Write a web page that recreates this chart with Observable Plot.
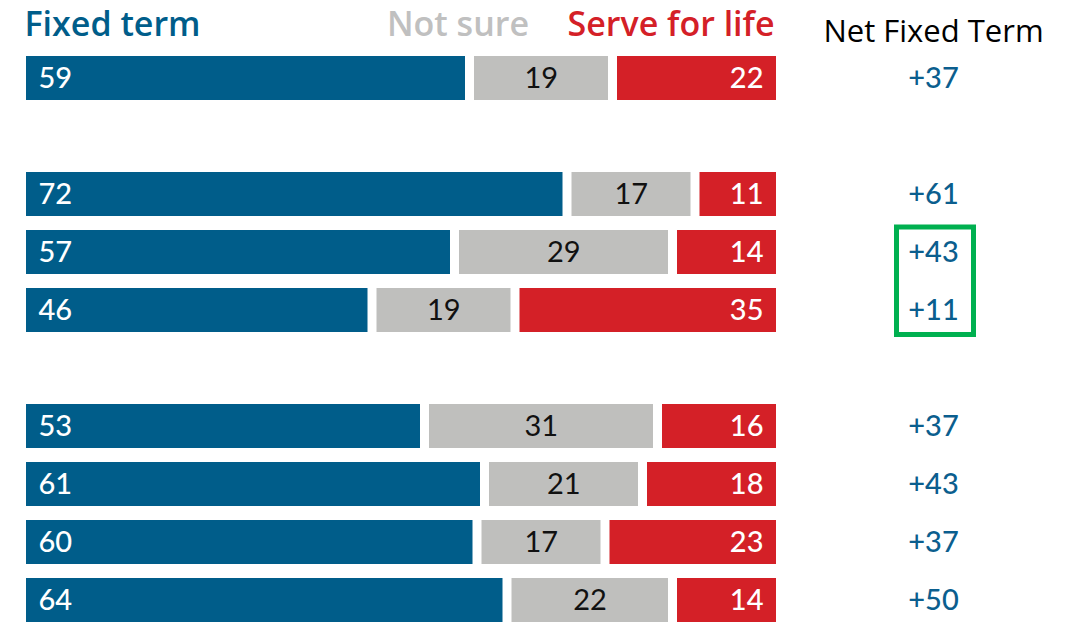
<!DOCTYPE html>
<html>
<head>
<meta charset="utf-8">
<script src="https://cdn.jsdelivr.net/npm/d3@7"></script>
<script src="https://cdn.jsdelivr.net/npm/@observablehq/plot@0.6"></script>
<style>
  html, body { margin: 0; padding: 0; background: #fff; }
  #chart svg { display: block; font-family: Lato, "Open Sans", sans-serif; }
</style>
</head>
<body>
<div id="chart"></div>
<script>
// ---- data ----
const rowKeys = ["r1", "r2", "r3", "r4", "r5", "r6", "r7", "r8"];
const slotOrder = ["r1", "gapA", "r2", "r3", "r4", "gapB", "r5", "r6", "r7", "r8"];
const fixedTerm = [59, 72, 57, 46, 53, 61, 60, 64];
const notSure = [19, 17, 29, 19, 31, 21, 17, 22];
const serveForLife = [22, 11, 14, 35, 16, 18, 23, 14];
const netFixed = ["+37", "+61", "+43", "+11", "+37", "+43", "+37", "+50"];
const highlighted = ["r3", "r4"];
const headerLabels = ["Fixed term", "Not sure", "Serve for life"];
const netHeader = "Net Fixed Term";

const BLUE = "#005d8a", GREY = "#bfbfbd", RED = "#d42027", GREEN = "#00b050", NETBLUE = "#0b5e8e";

const rows = rowKeys.map((k, i) => ({
  key: k,
  fixed: fixedTerm[i],
  unsure: notSure[i],
  life: serveForLife[i],
  net: netFixed[i]
}));

const font = "Lato, 'Open Sans', sans-serif";
const headFont = "'Open Sans', Lato, sans-serif";

const chart = Plot.plot({
  width: 1071,
  height: 623,
  marginTop: 0, marginBottom: 0, marginLeft: 0, marginRight: 0,
  style: { fontFamily: font, background: "#fff" },
  x: { domain: [0, 100], range: [26, 776], axis: null },
  y: { domain: slotOrder, range: [47.5, 630.8], paddingInner: 0.24, paddingOuter: 0.12, axis: null },
  marks: [
    // bars
    Plot.barX(rows, { y: "key", x1: () => 0, x2: d => d.fixed, fill: BLUE, insetRight: 3.5 }),
    Plot.barX(rows, { y: "key", x1: d => d.fixed, x2: d => d.fixed + d.unsure, fill: GREY, insetLeft: 5.5, insetRight: 3 }),
    Plot.barX(rows, { y: "key", x1: d => d.fixed + d.unsure, x2: () => 100, fill: RED, insetLeft: 6 }),
    // bar labels
    Plot.text(rows, { y: "key", x: () => 0, text: d => String(d.fixed), textAnchor: "start", dx: 12, fill: "#fff", fontSize: 29, fontWeight: 500 }),
    Plot.text(rows, { y: "key", x: d => d.fixed + d.unsure / 2, text: d => String(d.unsure), dx: 1, fill: "#111", fontSize: 29, fontWeight: 400 }),
    Plot.text(rows, { y: "key", x: () => 100, text: d => String(d.life), textAnchor: "end", dx: -13, fill: "#fff", fontSize: 29, fontWeight: 500 }),
    // net column
    Plot.text(rows, { y: "key", x: () => 100, text: "net", dx: 157, fill: NETBLUE, fontSize: 29, fontWeight: 500 }),
    // headers
    Plot.text([headerLabels[0]], { x: () => 0, frameAnchor: "top", lineAnchor: "middle", textAnchor: "start", dx: -2, dy: 25, text: d => d, fill: BLUE, fontSize: 34, fontWeight: 600, fontFamily: headFont, letterSpacing: "1px" }),
    Plot.text([headerLabels[1]], { x: () => 67, frameAnchor: "top", lineAnchor: "middle", textAnchor: "end", dy: 25, text: d => d, fill: "#c0c0c0", fontSize: 34, fontWeight: 600, fontFamily: headFont, letterSpacing: "0.8px" }),
    Plot.text([headerLabels[2]], { x: () => 100, frameAnchor: "top", lineAnchor: "middle", textAnchor: "end", dx: -2, dy: 25, text: d => d, fill: RED, fontSize: 34, fontWeight: 600, fontFamily: headFont, letterSpacing: "1px" }),
    Plot.text([netHeader], { x: () => 100, frameAnchor: "top", lineAnchor: "middle", dx: 157, dy: 32, text: d => d, fill: "#000", fontSize: 31, fontWeight: 400, fontFamily: headFont })
  ]
});

// highlight box around selected net values
{
  const xs = chart.scale("x"), ys = chart.scale("y");
  const cx = xs.apply(100) + 159;
  const top = ys.apply(highlighted[0]) - 3;
  const bottom = ys.apply(highlighted[highlighted.length - 1]) + ys.bandwidth + 2.5;
  d3.select(chart).append("rect")
    .attr("x", cx - 38.5).attr("width", 77)
    .attr("y", top).attr("height", bottom - top)
    .attr("fill", "none").attr("stroke", GREEN).attr("stroke-width", 5);
}

document.getElementById("chart").appendChild(chart);
</script>
</body>
</html>
